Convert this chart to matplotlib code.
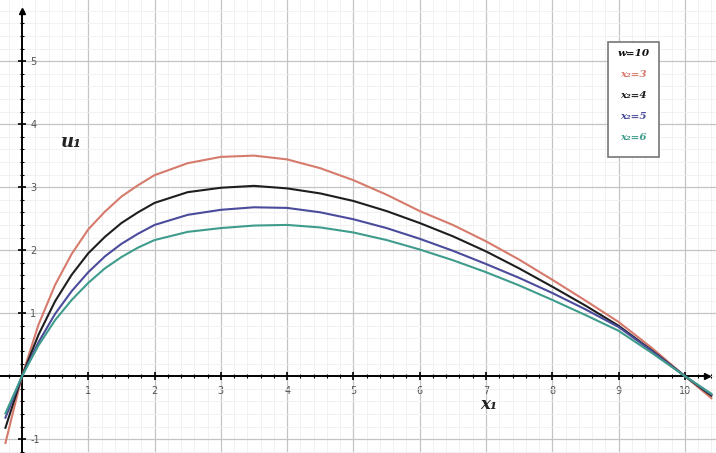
import numpy as np
import matplotlib.pyplot as plt
from matplotlib.ticker import MultipleLocator

# -------------------------------
# 1. Values
# -------------------------------
x1 = [-0.25, 0, 0.25, 0.5, 0.75, 1, 1.25, 1.5, 1.75, 2, 2.5, 3, 3.5, 4, 4.5, 5,
      5.5, 6, 6.5, 7, 7.5, 8, 8.5, 9, 9.5, 10, 10.4]

u_x3 = [-1.06, 0, 0.82, 1.45, 1.94, 2.33, 2.61, 2.85, 3.03, 3.19, 3.38, 3.48, 3.50,
        3.44, 3.30, 3.11, 2.88, 2.62, 2.40, 2.14, 1.85, 1.53, 1.20, 0.86, 0.45, 0, -0.35]
u_x4 = [-0.82, 0, 0.66, 1.19, 1.61, 1.95, 2.21, 2.43, 2.60, 2.75, 2.92, 2.99, 3.02,
        2.98, 2.90, 2.78, 2.62, 2.43, 2.22, 1.98, 1.71, 1.42, 1.12, 0.80, 0.41, 0, -0.31]
u_x5 = [-0.66, 0, 0.54, 0.99, 1.35, 1.65, 1.90, 2.10, 2.26, 2.40, 2.56, 2.64, 2.68,
        2.67, 2.60, 2.49, 2.35, 2.18, 1.99, 1.78, 1.56, 1.32, 1.06, 0.78, 0.40, 0, -0.29]
u_x6 = [-0.59, 0, 0.49, 0.89, 1.21, 1.48, 1.71, 1.89, 2.04, 2.16, 2.29, 2.35, 2.39,
        2.40, 2.36, 2.28, 2.16, 2.01, 1.84, 1.65, 1.44, 1.21, 0.97, 0.72, 0.37, 0, -0.28]

series = [u_x3, u_x4, u_x5, u_x6]
colors = ['#d67a6c', '#1e1e1e', '#4b4b9c', '#3f9c8c']
legend_lines = ['w=10', 'x₂=3', 'x₂=4', 'x₂=5', 'x₂=6']
legend_colors = ['#111111'] + colors

xticks = list(range(1, 11))
yticks = [-1, 1, 2, 3, 4, 5]

# -------------------------------
# 2. Figure
# -------------------------------
fig = plt.figure(figsize=(7.16, 4.53), dpi=100)
ax = fig.add_axes([0, 0, 1, 1])
ax.set_xlim(-0.332, 10.47)
ax.set_ylim(-1.22, 5.97)

for vals, c in zip(series, colors):
    ax.plot(x1, vals, color=c, lw=1.5, zorder=3)

# grid
ax.xaxis.set_major_locator(MultipleLocator(1))
ax.yaxis.set_major_locator(MultipleLocator(1))
ax.xaxis.set_minor_locator(MultipleLocator(0.2))
ax.yaxis.set_minor_locator(MultipleLocator(0.2))
ax.grid(which='major', color='#c4c4c4', lw=0.9)
ax.grid(which='minor', color='#efefef', lw=0.6)

# axes through the origin
for s in ['top', 'right']:
    ax.spines[s].set_visible(False)
ax.spines['left'].set_position(('data', 0))
ax.spines['bottom'].set_position(('data', 0))
ax.spines['left'].set_linewidth(1.4)
ax.spines['bottom'].set_linewidth(1.4)
ax.spines['left'].set_bounds(-1.22, 5.8)
ax.spines['bottom'].set_bounds(-0.332, 10.33)

ax.set_xticks(xticks)
ax.set_xticklabels([str(t) for t in xticks])
ax.set_yticks(yticks)
ax.set_yticklabels([str(t) for t in yticks])
ax.tick_params(which='major', direction='inout', length=6, width=1.2,
               labelsize=7, labelcolor='#555555')
ax.tick_params(which='minor', direction='inout', length=3, width=0.8)
ax.tick_params(axis='x', pad=4)
ax.tick_params(axis='y', pad=-9)
for lab in ax.get_yticklabels():
    lab.set_horizontalalignment('left')

# arrows
ax.plot(10.33, 0, '>k', ms=5, clip_on=False, zorder=4)
ax.plot(0, 5.8, '^k', ms=5, clip_on=False, zorder=4)

# axis names
ax.text(0.75, 3.72, 'u₁', fontsize=13, family='DejaVu Serif', fontweight='bold',
        fontstyle='italic', ha='center', va='center', color='#222222')
ax.text(7.05, -0.45, 'x₁', fontsize=12, family='DejaVu Serif', fontweight='bold',
        fontstyle='italic', ha='center', va='center', color='#222222')

# legend box
for i, (t, c) in enumerate(zip(legend_lines, legend_colors)):
    ax.text(0.885, 0.883 - i * 0.0464, t, transform=ax.transAxes, fontsize=7.5,
            color=c, fontweight='bold', fontstyle='italic', family='DejaVu Serif',
            ha='center', va='center', zorder=5)
box = plt.Rectangle((0.849, 0.653), 0.071, 0.254, transform=ax.transAxes,
                    facecolor='white', edgecolor='#777777', lw=1.2, zorder=4)
ax.add_patch(box)

plt.savefig('out.png', dpi=100)
